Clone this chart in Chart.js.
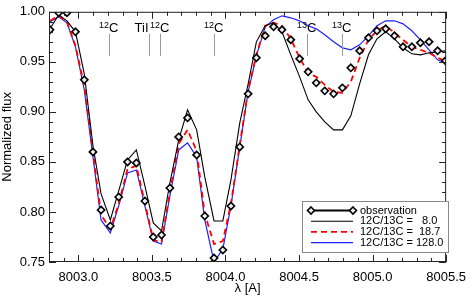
<!DOCTYPE html>
<html>
<head>
<meta charset="utf-8">
<script src="https://cdn.jsdelivr.net/npm/chart.js@4.4.1/dist/chart.umd.min.js"></script>
<style>
  html, body { margin: 0; padding: 0; background: #fff; }
  #wrap { width: 474px; height: 296px; }
</style>
</head>
<body>
<div id="wrap"><canvas id="grafik" width="474" height="296"></canvas></div>
<script>
// wavelength grid (A), shared by observation and models
const wavelength = [
    8002.807, 8002.866, 8002.922, 8002.980, 8003.040, 8003.099, 8003.154, 8003.217,
    8003.274, 8003.334, 8003.394, 8003.452, 8003.509, 8003.565, 8003.622, 8003.682,
    8003.742, 8003.804, 8003.859, 8003.922, 8003.982, 8004.037, 8004.097, 8004.154,
    8004.210, 8004.270, 8004.327, 8004.384, 8004.444, 8004.504, 8004.562, 8004.617,
    8004.675, 8004.735, 8004.795, 8004.852, 8004.912, 8004.972, 8005.030, 8005.089,
    8005.149, 8005.207, 8005.267, 8005.325, 8005.384, 8005.442, 8005.495
];
const observed = [
    0.982, 0.999, 0.999, 0.980, 0.932, 0.860, 0.802, 0.786,
    0.815, 0.850, 0.849, 0.811, 0.775, 0.777, 0.824, 0.875,
    0.894, 0.857, 0.796, 0.754, 0.762, 0.806, 0.865, 0.918,
    0.954, 0.976, 0.985, 0.982, 0.972, 0.953, 0.940, 0.929,
    0.921, 0.918, 0.924, 0.944, 0.961, 0.974, 0.981, 0.983,
    0.976, 0.965, 0.965, 0.969, 0.970, 0.961, 0.951
];
const ratio8 = [
    0.983, 0.997, 0.991, 0.980, 0.938, 0.866, 0.818, 0.792,
    0.821, 0.852, 0.862, 0.826, 0.789, 0.781, 0.829, 0.872,
    0.902, 0.882, 0.835, 0.791, 0.791, 0.832, 0.889, 0.928,
    0.970, 0.986, 0.989, 0.980, 0.957, 0.935, 0.912, 0.900,
    0.890, 0.882, 0.882, 0.896, 0.928, 0.957, 0.973, 0.980,
    0.973, 0.964, 0.958, 0.957, 0.959, 0.960, 0.961
];
const ratio18 = [
    0.991, 0.996, 0.990, 0.966, 0.926, 0.860, 0.797, 0.783,
    0.808, 0.843, 0.846, 0.809, 0.772, 0.770, 0.820, 0.868,
    0.882, 0.861, 0.798, 0.768, 0.771, 0.808, 0.867, 0.922,
    0.957, 0.986, 0.989, 0.986, 0.973, 0.954, 0.939, 0.935,
    0.927, 0.920, 0.919, 0.930, 0.954, 0.972, 0.981, 0.986,
    0.979, 0.972, 0.965, 0.962, 0.959, 0.954, 0.951
];
const ratio128 = [
    0.990, 0.995, 0.989, 0.965, 0.922, 0.855, 0.792, 0.779,
    0.806, 0.839, 0.842, 0.806, 0.771, 0.768, 0.816, 0.862,
    0.869, 0.855, 0.792, 0.750, 0.763, 0.806, 0.865, 0.920,
    0.956, 0.985, 0.992, 0.996, 0.994, 0.991, 0.986, 0.983,
    0.977, 0.970, 0.964, 0.962, 0.967, 0.976, 0.986, 0.991,
    0.991, 0.988, 0.981, 0.972, 0.962, 0.952, 0.949
];
const seriesLabels = ['observation', '12C/13C =   8.0', '12C/13C =  18.7', '12C/13C = 128.0'];

const xTickValues = [8003.0, 8003.5, 8004.0, 8004.5, 8005.0, 8005.5];
const yTickValues = [0.75, 0.80, 0.85, 0.90, 0.95, 1.00];

// line identifications
const lineWave = [8003.205, 8003.483, 8003.553, 8003.919, 8004.553, 8004.790];
const lineIso = ['12', '', '12', '12', '13', '13'];
const lineElem = ['C', 'TiI', 'C', 'C', 'C', 'C'];

const FONT = '"Liberation Sans", Arial, Helvetica, sans-serif';

function pts(ys) {
    return wavelength.map((x, i) => ({ x: x, y: ys[i] }));
}

// frame with inward ticks on all four sides
const frameTicks = {
    id: 'frameTicks',
    afterDraw(chart) {
        const ctx = chart.ctx;
        const a = chart.chartArea;
        const xs = chart.scales.x, ys = chart.scales.y;
        ctx.save();
        ctx.strokeStyle = '#222';
        ctx.lineWidth = 1;
        ctx.strokeRect(a.left + 0.5, a.top + 0.5, a.right - a.left - 1, a.bottom - a.top - 1);
        ctx.beginPath();
        for (let k = 0; k <= 27; k++) {
            const v = xs.min + k * 0.1;
            const px = Math.round(xs.getPixelForValue(v)) + 0.5;
            const len = (Math.abs(Math.round(v * 2) - v * 2) < 1e-6) ? 7 : 4;
            ctx.moveTo(px, a.bottom); ctx.lineTo(px, a.bottom - len);
            ctx.moveTo(px, a.top); ctx.lineTo(px, a.top + len);
        }
        for (let k = 0; k <= 25; k++) {
            const v = ys.min + k * 0.01;
            const py = Math.round(ys.getPixelForValue(v)) + 0.5;
            const len = (k % 5 === 0) ? 7 : 4;
            ctx.moveTo(a.left, py); ctx.lineTo(a.left + len, py);
            ctx.moveTo(a.right, py); ctx.lineTo(a.right - len, py);
        }
        ctx.stroke();
        ctx.restore();
    }
};

// gray identification markers with isotope labels
const lineMarks = {
    id: 'lineMarks',
    afterDatasetsDraw(chart) {
        const ctx = chart.ctx;
        const xs = chart.scales.x, ys = chart.scales.y;
        const y0 = ys.getPixelForValue(0.978);
        const y1 = ys.getPixelForValue(0.956);
        ctx.save();
        ctx.strokeStyle = '#999';
        ctx.lineWidth = 1;
        ctx.fillStyle = '#000';
        ctx.textBaseline = 'alphabetic';
        lineWave.forEach((w, i) => {
            const px = Math.round(xs.getPixelForValue(w)) + 0.5;
            ctx.beginPath();
            ctx.moveTo(px, y0); ctx.lineTo(px, y1);
            ctx.stroke();
            if (lineIso[i]) {
                ctx.font = '9px ' + FONT;
                ctx.textAlign = 'right';
                ctx.fillText(lineIso[i], px - 0.5, y0 - 6);
                ctx.font = '13px ' + FONT;
                ctx.textAlign = 'left';
                ctx.fillText(lineElem[i], px - 0.5, y0 - 2);
            } else {
                ctx.font = '13px ' + FONT;
                ctx.textAlign = 'right';
                ctx.fillText(lineElem[i], px - 1, y0 - 2);
            }
        });
        ctx.restore();
    }
};

// boxed legend in lower right
const boxLegend = {
    id: 'boxLegend',
    afterDraw(chart) {
        const ctx = chart.ctx;
        const bx = 302, by = 201, bw = 146, bh = 51;
        ctx.save();
        ctx.fillStyle = '#fff';
        ctx.fillRect(bx, by, bw, bh);
        ctx.strokeStyle = '#888';
        ctx.lineWidth = 1;
        ctx.strokeRect(bx + 0.5, by + 0.5, bw, bh);
        ctx.font = '11px ' + FONT;
        ctx.textBaseline = 'middle';
        chart.data.datasets.forEach((ds, i) => {
            const y = by + 9.5 + i * 10.7;
            ctx.save();
            ctx.strokeStyle = ds.borderColor;
            ctx.lineWidth = i === 0 ? 2 : ds.borderWidth;
            ctx.setLineDash(ds.borderDash || []);
            ctx.beginPath();
            ctx.moveTo(311, y); ctx.lineTo(353, y);
            ctx.stroke();
            ctx.restore();
            if (i === 0) {
                [311, 353].forEach(cx => {
                    ctx.beginPath();
                    ctx.moveTo(cx, y - 3.5); ctx.lineTo(cx + 3.5, y);
                    ctx.lineTo(cx, y + 3.5); ctx.lineTo(cx - 3.5, y);
                    ctx.closePath();
                    ctx.fillStyle = '#eee';
                    ctx.fill();
                    ctx.lineWidth = 1.6;
                    ctx.strokeStyle = '#000';
                    ctx.stroke();
                });
            }
            ctx.fillStyle = '#000';
            ctx.textAlign = 'left';
            ctx.fillText(ds.label.replace(/ /g, '\u00a0'), 360, y);
        });
        ctx.restore();
    }
};

Chart.defaults.font.family = FONT;
Chart.defaults.font.size = 13;
Chart.defaults.color = '#000';

const ctx = document.getElementById('grafik').getContext('2d');
new Chart(ctx, {
    type: 'line',
    data: {
        datasets: [
            {
                label: seriesLabels[0],
                data: pts(observed),
                showLine: false,
                borderColor: '#000',
                backgroundColor: '#eee',
                pointStyle: 'rectRot',
                pointRadius: 3.6,
                pointBorderWidth: 1.6,
                borderWidth: 2
            },
            {
                label: seriesLabels[1],
                data: pts(ratio8),
                borderColor: '#000',
                borderWidth: 1.1,
                pointRadius: 0
            },
            {
                label: seriesLabels[2],
                data: pts(ratio18),
                borderColor: '#ff0000',
                borderWidth: 1.8,
                borderDash: [6, 4],
                pointRadius: 0
            },
            {
                label: seriesLabels[3],
                data: pts(ratio128),
                borderColor: '#1f1fff',
                borderWidth: 1.2,
                pointRadius: 0
            }
        ]
    },
    options: {
        responsive: false,
        animation: false,
        devicePixelRatio: 1,
        layout: { padding: { left: 0, right: 19, top: 2, bottom: 0 } },
        elements: { line: { tension: 0 } },
        plugins: {
            legend: { display: false },
            tooltip: { enabled: false }
        },
        scales: {
            x: {
                type: 'linear',
                min: 8002.8,
                max: 8005.5,
                afterBuildTicks: s => { s.ticks = xTickValues.map(v => ({ value: v })); },
                afterFit: s => { s.height = 34; },
                grid: { display: false, drawTicks: false },
                border: { display: false },
                ticks: { padding: 8, maxRotation: 0, autoSkip: false, callback: v => v.toFixed(1) },
                title: { display: true, text: 'λ [A]', padding: 0, font: { size: 13 } }
            },
            y: {
                min: 0.75,
                max: 1.0,
                afterBuildTicks: s => { s.ticks = yTickValues.map(v => ({ value: v })); },
                afterFit: s => { s.width = 49; },
                grid: { display: false, drawTicks: false },
                border: { display: false },
                ticks: { padding: 4, callback: v => v.toFixed(2) },
                title: { display: true, text: 'Normalized flux', padding: 0, font: { size: 13 } }
            }
        }
    },
    plugins: [frameTicks, lineMarks, boxLegend]
});
</script>
</body>
</html>
